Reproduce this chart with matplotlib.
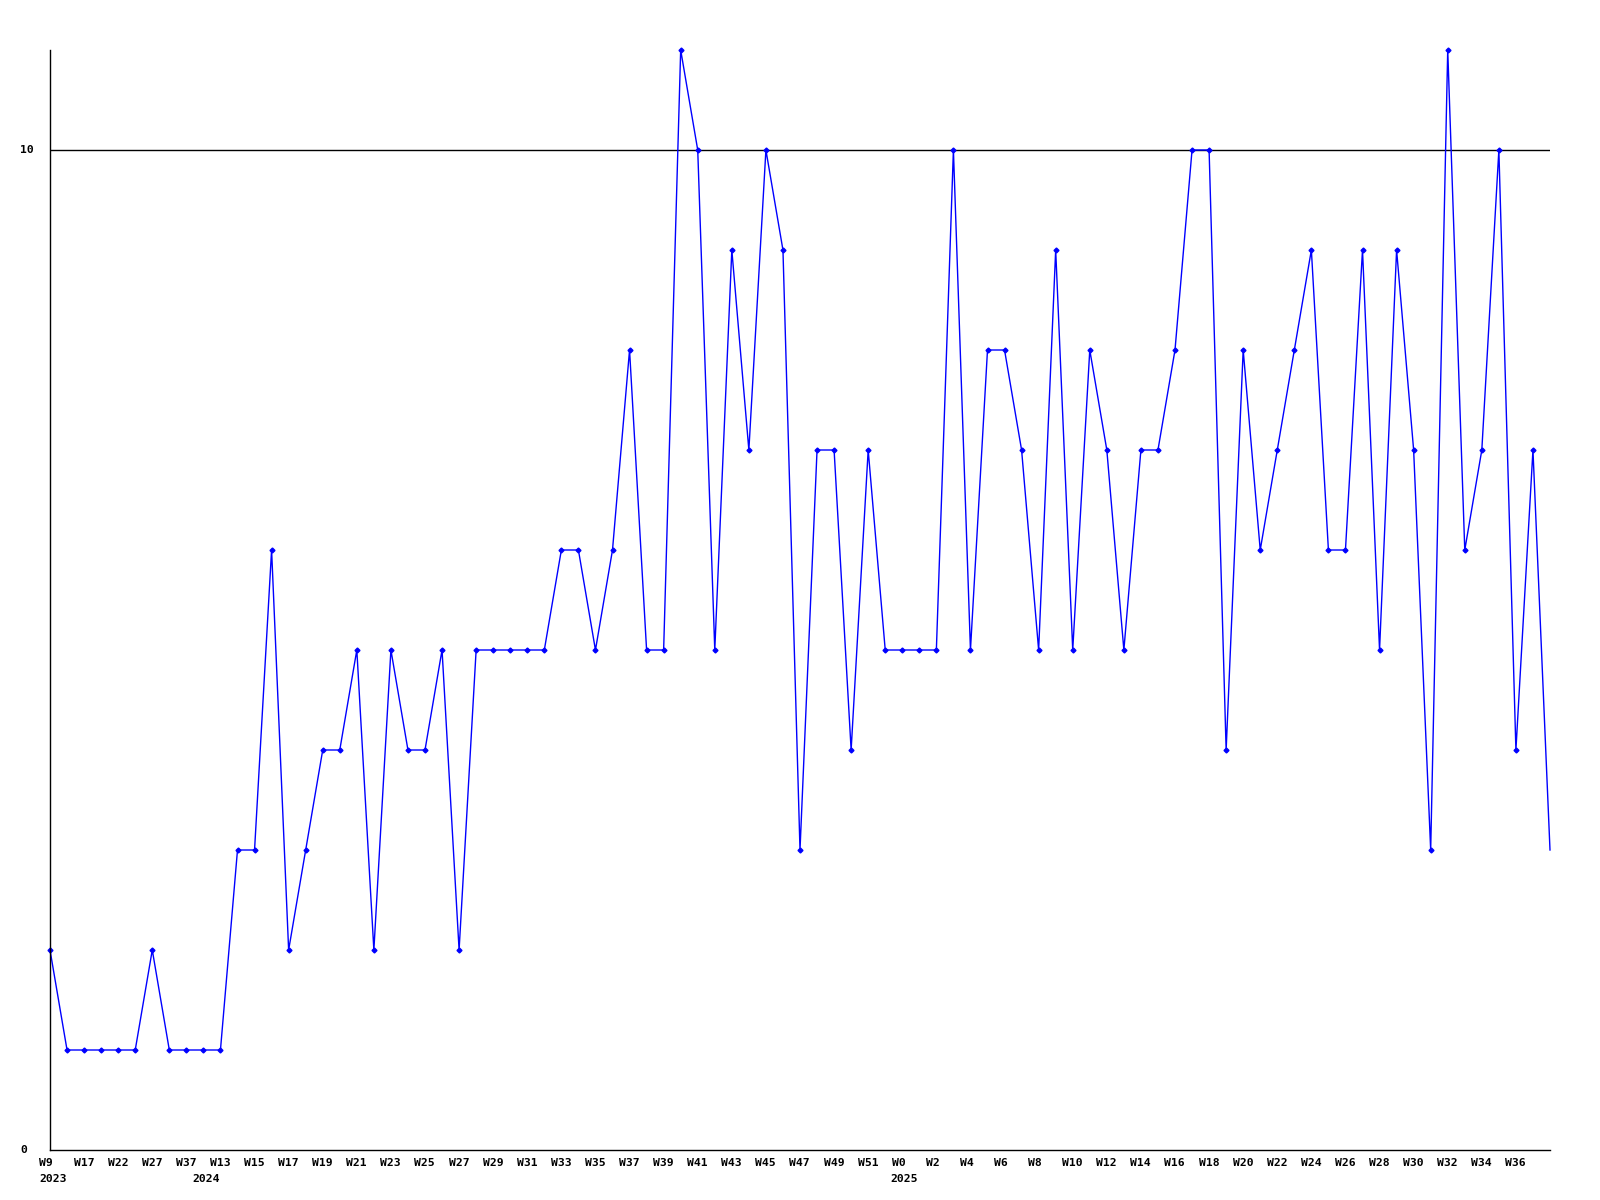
import matplotlib.pyplot as plt
import matplotlib.transforms as mtransforms

# weekly counts
values = [2, 1, 1, 1, 1, 1, 2, 1, 1, 1, 1, 3, 3, 6, 2, 3, 4, 4, 5, 2,
          5, 4, 4, 5, 2, 5, 5, 5, 5, 5, 6, 6, 5, 6, 8, 5, 5, 11, 10, 5,
          9, 7, 10, 9, 3, 7, 7, 4, 7, 5, 5, 5, 5, 10, 5, 8, 8, 7, 5, 9,
          5, 8, 7, 5, 7, 7, 8, 10, 10, 4, 8, 6, 7, 8, 9, 6, 6, 9, 5, 9,
          7, 3, 11, 6, 7, 10, 4, 7, 3]
week_labels = ["W9", "W17", "W22", "W27", "W37", "W13", "W15", "W17", "W19",
               "W21", "W23", "W25", "W27", "W29", "W31", "W33", "W35", "W37",
               "W39", "W41", "W43", "W45", "W47", "W49", "W51", "W0", "W2",
               "W4", "W6", "W8", "W10", "W12", "W14", "W16", "W18", "W20",
               "W22", "W24", "W26", "W28", "W30", "W32", "W34", "W36"]
year_labels = ["2023", "2024", "2025"]
year_x = [-0.65, 8.33, 49.33]

font = dict(family="DejaVu Sans Mono", weight="bold", size=8.2)

fig = plt.figure(figsize=(16, 12), dpi=100)
ax = fig.add_axes([50 / 1600, 1 - 1150 / 1200, 1500 / 1600, 1100 / 1200])

x = list(range(len(values)))
ax.plot(x, values, color="#0000ff", lw=1, marker="D", ms=2.5,
        markevery=list(range(len(values) - 1)), clip_on=False)
ax.axhline(10, color="black", lw=1, zorder=1)

ax.set_xlim(0, len(values) - 1)
ax.set_ylim(0, 11)
ax.set_xticks([])
ax.set_yticks([])
for side in ["top", "right"]:
    ax.spines[side].set_visible(False)
ax.spines["left"].set_linewidth(1)
ax.spines["bottom"].set_linewidth(1)

trans = mtransforms.blended_transform_factory(ax.transData, fig.transFigure)
for k, lab in enumerate(week_labels):
    ax.text(2 * k - 0.62, 1 - 1158 / 1200, lab, transform=trans,
            ha="left", va="top", **font)
for xp, lab in zip(year_x, year_labels):
    ax.text(xp, 1 - 1174 / 1200, lab, transform=trans,
            ha="left", va="top", **font)

fig.text(20 / 1600, 1 - 1150 / 1200, "0", ha="left", va="center", **font)
fig.text(20 / 1600, 1 - 150 / 1200, "10", ha="left", va="center", **font)

plt.savefig("out.png")
